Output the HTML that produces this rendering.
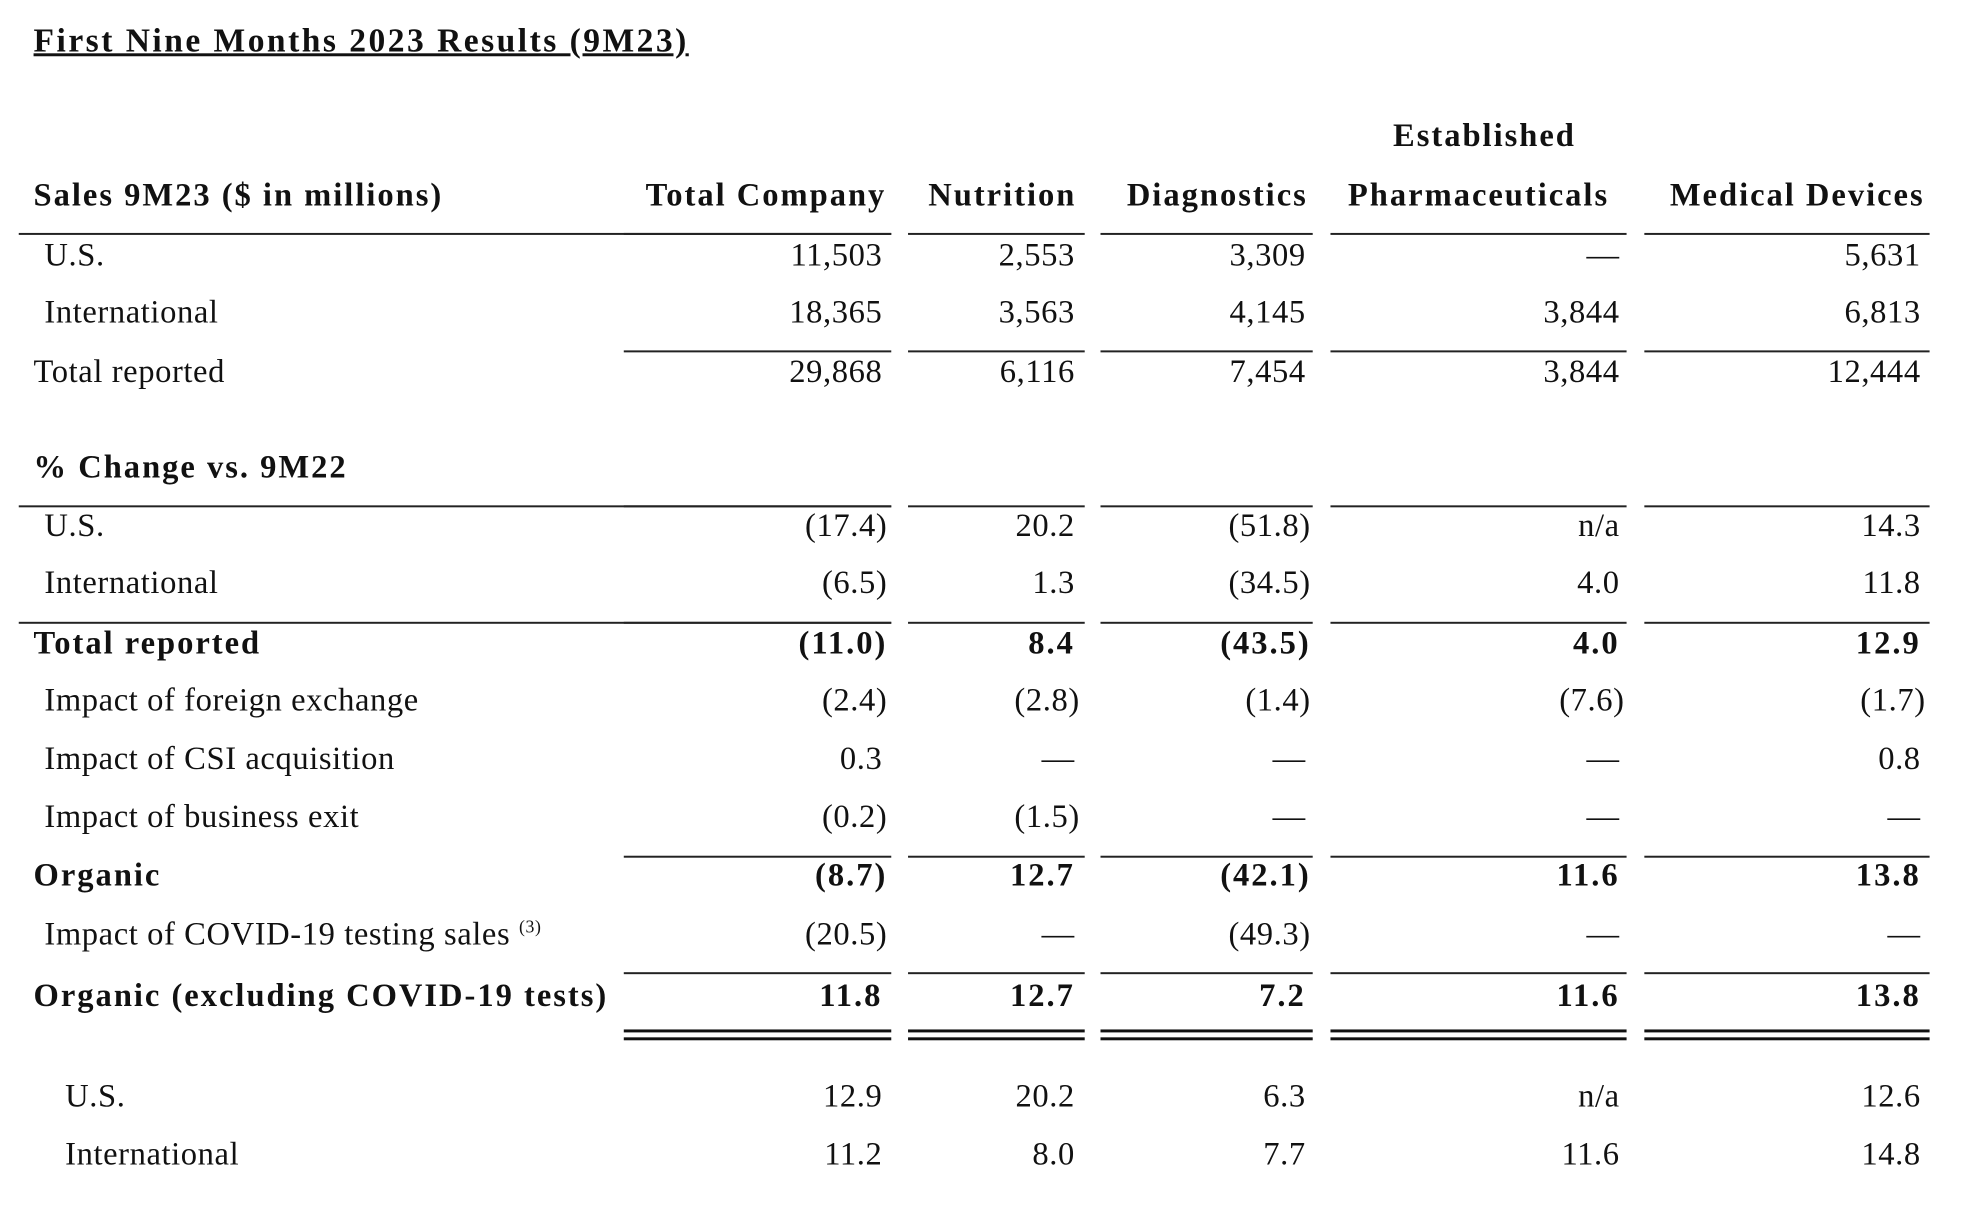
<!DOCTYPE html>
<html><head><meta charset="utf-8"><style>
body{margin:0;width:1978px;height:1212px;background:#fff;position:relative;overflow:hidden;font-family:"Liberation Serif",serif;color:#111;font-size:33px}
#w{position:absolute;left:0;top:0;width:2010px;height:1230px;transform:scale(0.987);transform-origin:0 0}
.t{position:absolute;height:40px;line-height:40px;white-space:nowrap;letter-spacing:0.6px}
.b{font-weight:bold;letter-spacing:2px}
.r{text-align:right}
.l{position:absolute;height:1.5px;background:#222}
.d{position:absolute;height:3px;background:#111}
sup{font-size:18px;line-height:0;vertical-align:12px}
</style></head><body><div id="w">
<div class="t b" style="left:34px;top:22px;font-size:34px;text-decoration:underline;letter-spacing:2.5px">First Nine Months 2023 Results (9M23)</div>

<div class="t b" style="left:1354px;width:300px;text-align:center;top:118px">Established</div>
<div class="t b" style="left:34px;top:178px">Sales 9M23 ($ in millions)</div>
<div class="t b r" style="left:600px;width:298px;top:178px">Total Company</div>
<div class="t b" style="left:926px;width:179px;text-align:center;top:178px">Nutrition</div>
<div class="t b r" style="left:1100px;width:225px;top:178px">Diagnostics</div>
<div class="t b" style="left:1348px;width:300px;text-align:center;top:178px">Pharmaceuticals</div>
<div class="t b r" style="left:1640px;width:310px;top:178px">Medical Devices</div>

<div id="rows"></div>

<div class="l" style="left:19px;width:884px;top:236px"></div>
<div class="l" style="left:19px;width:884px;top:512px"></div>
<div class="l" style="left:19px;width:884px;top:630px"></div>
</div>
<script>
var cols=[[632,903,899],[920,1099,1094],[1115,1330,1328],[1348,1648,1646],[1666,1955,1951]];
var h='';
function seg(y,cls){cols.forEach(function(c){h+='<div class="'+(cls||'l')+'" style="left:'+c[0]+'px;width:'+(c[1]-c[0])+'px;top:'+y+'px"></div>';});}
[236,355,512,630,867,985].forEach(function(y){seg(y)});
seg(1043,'d');seg(1051,'d');
var rows=[
[259,45,'U.S.',0,['11,503','2,553','3,309','—','5,631']],
[317,45,'International',0,['18,365','3,563','4,145','3,844','6,813']],
[377,34,'Total reported',0,['29,868','6,116','7,454','3,844','12,444']],
[474,34,'% Change vs. 9M22',1,null],
[533,45,'U.S.',0,['(17.4)','20.2','(51.8)','n/a','14.3']],
[591,45,'International',0,['(6.5)','1.3','(34.5)','4.0','11.8']],
[652,34,'Total reported',1,['(11.0)','8.4','(43.5)','4.0','12.9']],
[710,45,'Impact of foreign exchange',0,['(2.4)','(2.8)','(1.4)','(7.6)','(1.7)']],
[769,45,'Impact of CSI acquisition',0,['0.3','—','—','—','0.8']],
[828,45,'Impact of business exit',0,['(0.2)','(1.5)','—','—','—']],
[887,34,'Organic',1,['(8.7)','12.7','(42.1)','11.6','13.8']],
[947,45,'Impact of COVID-19 testing sales <sup>(3)</sup>',0,['(20.5)','—','(49.3)','—','—']],
[1009,34,'Organic (excluding COVID-19 tests)',1,['11.8','12.7','7.2','11.6','13.8']],
[1111,66,'U.S.',0,['12.9','20.2','6.3','n/a','12.6']],
[1170,66,'International',0,['11.2','8.0','7.7','11.6','14.8']]
];
rows.forEach(function(r){
 var b=r[3]?' b':'';
 h+='<div class="t'+b+'" style="left:'+r[1]+'px;top:'+(r[0]-20)+'px">'+r[2]+'</div>';
 if(r[4])r[4].forEach(function(v,i){
  var pr=v.charAt(v.length-1)==')'?0:5;
  h+='<div class="t r'+b+'" style="left:'+(cols[i][2]-300)+'px;width:'+(300-pr)+'px;top:'+(r[0]-20)+'px">'+v+'</div>';
 });
});
document.getElementById('rows').innerHTML=h;
</script>
</body></html>
